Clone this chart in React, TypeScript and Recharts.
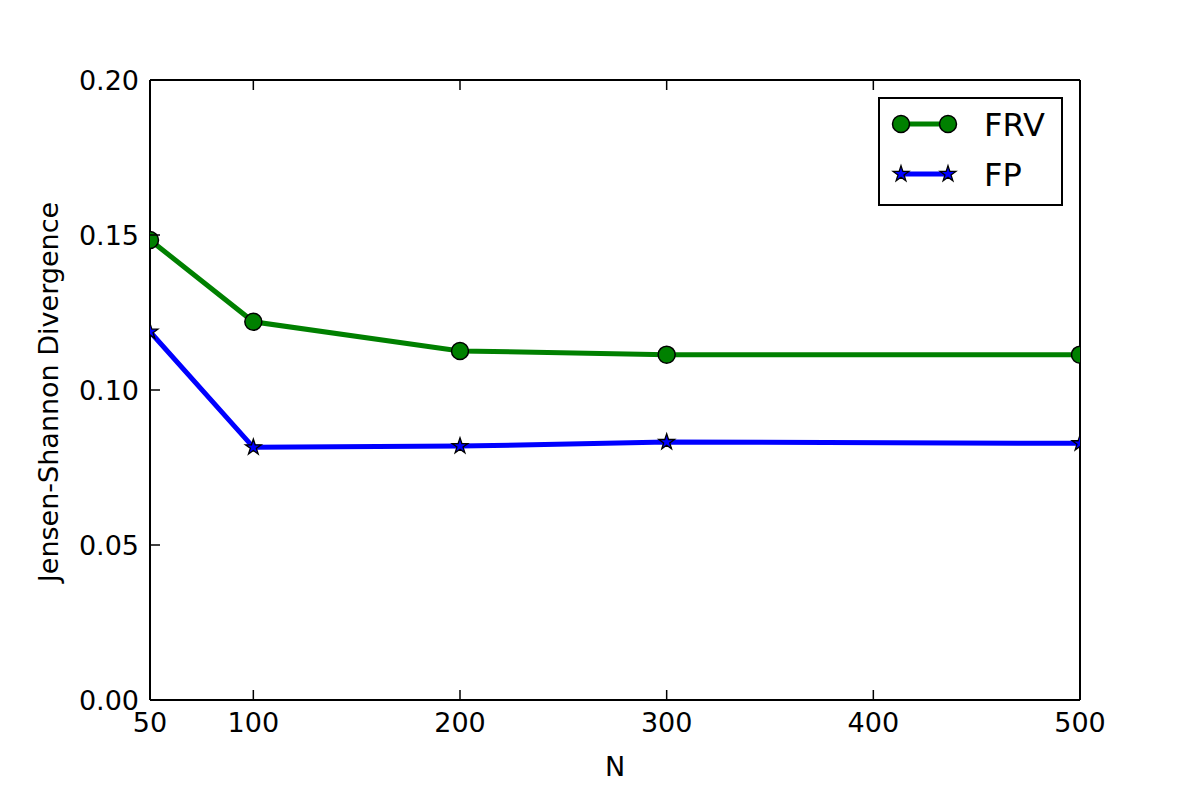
import React from 'react';
import { LineChart, Line, XAxis, YAxis, Legend } from 'recharts';

const nValues = [50, 100, 200, 300, 500];
const frvValues = [0.1484, 0.122, 0.1126, 0.1114, 0.1114];
const fpValues = [0.1188, 0.0815, 0.0819, 0.0832, 0.0828];
const xTicks = [50, 100, 200, 300, 400, 500];
const yTicks = [0, 0.05, 0.1, 0.15, 0.2];
const seriesNames = ['FRV', 'FP'];
const seriesColors = ['#008000', '#0000ff'];

const data = nValues.map((n, i) => ({ n, frv: frvValues[i], fp: fpValues[i] }));

const FONT = '"DejaVu Sans", sans-serif';
const TICK_LEN = 10;
const TICK_FONT = 27;
const LABEL_FONT = 27;
const LEGEND_FONT = 32;

function starPoints(cx: number, cy: number, R: number, r: number) {
  const pts: string[] = [];
  for (let k = 0; k < 10; k++) {
    const rad = k % 2 === 0 ? R : r;
    const a = -Math.PI / 2 + (k * Math.PI) / 5;
    pts.push(`${cx + rad * Math.cos(a)},${cy + rad * Math.sin(a)}`);
  }
  return pts.join(' ');
}

const CircleMarker = ({ cx, cy, color }: any) => (
  <circle cx={cx} cy={cy} r={8.5} fill={color} stroke="#000" strokeWidth={1.5} />
);
const StarMarker = ({ cx, cy, color }: any) => (
  <polygon points={starPoints(cx, cy, 8.3, 3.2)} fill={color} stroke="#000" strokeWidth={1.3} strokeLinejoin="miter" />
);

const BottomTick = (props: any) => {
  const { x, y, payload } = props;
  return (
    <g>
      <line x1={x} y1={y} x2={x} y2={y - TICK_LEN} stroke="#000" strokeWidth={1.5} />
      <text x={x} y={y + 11} dy="0.76em" textAnchor="middle" fontSize={TICK_FONT} fontFamily={FONT} fill="#000">
        {payload.value}
      </text>
    </g>
  );
};

const TopTick = (props: any) => {
  const { x, y } = props;
  return <line x1={x} y1={y} x2={x} y2={y + TICK_LEN} stroke="#000" strokeWidth={1.5} />;
};

const LeftTick = (props: any) => {
  const { x, y, payload } = props;
  return (
    <g>
      <line x1={x} y1={y} x2={x + TICK_LEN} y2={y} stroke="#000" strokeWidth={1.5} />
      <text x={x - 11} y={y} dy="0.36em" textAnchor="end" fontSize={TICK_FONT} fontFamily={FONT} fill="#000">
        {Number(payload.value).toFixed(2)}
      </text>
    </g>
  );
};

const RightTick = (props: any) => {
  const { x, y } = props;
  return <line x1={x} y1={y} x2={x - TICK_LEN} y2={y} stroke="#000" strokeWidth={1.5} />;
};

const LegendBox = () => (
  <svg width={185} height={109} style={{ display: 'block' }}>
    <rect x={1} y={1} width={183} height={107} fill="#fff" stroke="#000" strokeWidth={2} />
    {seriesNames.map((name, i) => {
      const cy = 27 + i * 50;
      return (
        <g key={name}>
          <line x1={23} y1={cy} x2={70} y2={cy} stroke={seriesColors[i]} strokeWidth={5} />
          {i === 0 ? (
            <>
              <CircleMarker cx={23} cy={cy} color={seriesColors[i]} />
              <CircleMarker cx={70} cy={cy} color={seriesColors[i]} />
            </>
          ) : (
            <>
              <StarMarker cx={23} cy={cy} color={seriesColors[i]} />
              <StarMarker cx={70} cy={cy} color={seriesColors[i]} />
            </>
          )}
          <text x={106} y={cy} dy="0.36em" fontSize={LEGEND_FONT} fontFamily={FONT} fill="#000">
            {name}
          </text>
        </g>
      );
    })}
  </svg>
);

const XLabel = (props: any) => {
  const { viewBox } = props;
  return (
    <text x={viewBox.x + viewBox.width / 2} y={viewBox.y + 66} dy="0.36em" textAnchor="middle" fontSize={LABEL_FONT} fontFamily={FONT} fill="#000">
      N
    </text>
  );
};

const YLabel = (props: any) => {
  const { viewBox } = props;
  const cx = viewBox.x + 48;
  const cy = viewBox.y + viewBox.height / 2 + 2;
  return (
    <text x={cx} y={cy} dy="0.36em" textAnchor="middle" fontSize={LABEL_FONT} fontFamily={FONT} fill="#000" transform={`rotate(-90, ${cx}, ${cy})`}>
      Jensen-Shannon Divergence
    </text>
  );
};

export default function App() {
  return (
    <div style={{ position: 'absolute', left: 0, top: 0, width: 1200, height: 800, background: '#fff' }}>
      <LineChart width={1200} height={800} data={data} margin={{ top: 0, right: 0, bottom: 0, left: 0 }}>
        <XAxis
          dataKey="n"
          type="number"
          domain={[50, 500]}
          ticks={xTicks}
          interval={0}
          allowDataOverflow
          height={100}
          tickSize={0}
          tickMargin={0}
          tickLine={false}
          tick={<BottomTick />}
          axisLine={{ stroke: '#000', strokeWidth: 2 }}
          label={<XLabel />}
        />
        <XAxis
          xAxisId="top"
          orientation="top"
          dataKey="n"
          type="number"
          domain={[50, 500]}
          ticks={xTicks}
          interval={0}
          height={80}
          tickSize={0}
          tickMargin={0}
          tickLine={false}
          tick={<TopTick />}
          axisLine={{ stroke: '#000', strokeWidth: 2 }}
        />
        <YAxis
          type="number"
          domain={[0, 0.2]}
          ticks={yTicks}
          interval={0}
          width={150}
          tickSize={0}
          tickMargin={0}
          tickLine={false}
          tick={<LeftTick />}
          axisLine={{ stroke: '#000', strokeWidth: 2 }}
          label={<YLabel />}
        />
        <YAxis
          yAxisId="right"
          orientation="right"
          type="number"
          domain={[0, 0.2]}
          ticks={yTicks}
          interval={0}
          width={120}
          tickSize={0}
          tickMargin={0}
          tickLine={false}
          tick={<RightTick />}
          axisLine={{ stroke: '#000', strokeWidth: 2 }}
        />
        <Line
          type="linear"
          dataKey="frv"
          name={seriesNames[0]}
          stroke={seriesColors[0]}
          strokeWidth={5}
          isAnimationActive={false}
          dot={(p: any) => <CircleMarker key={`frv-${p.index}`} cx={p.cx} cy={p.cy} color={seriesColors[0]} />}
          activeDot={false}
        />
        <Line
          type="linear"
          dataKey="fp"
          name={seriesNames[1]}
          stroke={seriesColors[1]}
          strokeWidth={5}
          isAnimationActive={false}
          dot={(p: any) => <StarMarker key={`fp-${p.index}`} cx={p.cx} cy={p.cy} color={seriesColors[1]} />}
          activeDot={false}
        />
        <Legend
          layout="vertical"
          align="center"
          verticalAlign="middle"
          content={<LegendBox />}
          wrapperStyle={{ left: 878, top: 97, width: 185, height: 109 }}
        />
      </LineChart>
    </div>
  );
}
